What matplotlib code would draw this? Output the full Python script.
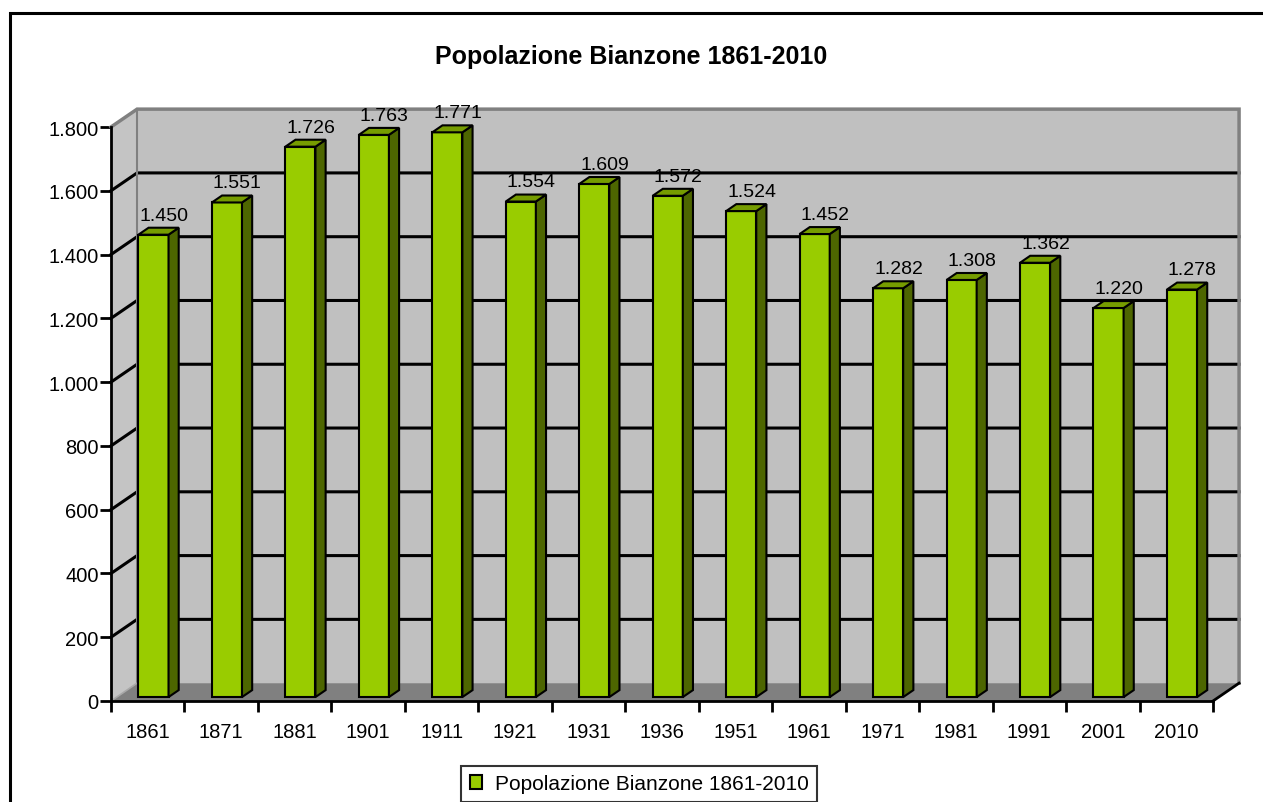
import matplotlib
matplotlib.use("Agg")
import matplotlib.pyplot as plt
from matplotlib.patches import Polygon
from matplotlib.lines import Line2D

# dati
anni = ['1861', '1871', '1881', '1901', '1911', '1921', '1931', '1936',
        '1951', '1961', '1971', '1981', '1991', '2001', '2010']
popolazione = [1450, 1551, 1726, 1763, 1771, 1554, 1609, 1572,
               1524, 1452, 1282, 1308, 1362, 1220, 1278]
y_ticks = [0, 200, 400, 600, 800, 1000, 1200, 1400, 1600, 1800]
y_tick_labels = ['0', '200', '400', '600', '800', '1.000', '1.200',
                 '1.400', '1.600', '1.800']
titolo = 'Popolazione Bianzone 1861-2010'

plt.rcParams['font.family'] = ['Liberation Sans', 'DejaVu Sans']

W, H = 1263, 803
fig = plt.figure(figsize=(W / 100, H / 100), dpi=100)
ax = fig.add_axes([111 / W, 101 / H, 1102 / W, 574 / H])

n = len(anni)
ymax = y_ticks[-1]
ax.set_xlim(0, n)
ax.set_ylim(0, ymax)

# profondita' della scatola 3d (in unita' dei dati)
DX, DY = 0.355, 56.0
F0, F1 = 0.22, 0.61   # dove stanno le barre nella profondita'
BW = 0.41


def poly(pts, fc, ec, lw, z):
    p = Polygon(pts, closed=True, facecolor=fc, edgecolor=ec, linewidth=lw,
                zorder=z, clip_on=False, joinstyle='miter')
    ax.add_patch(p)
    return p


# pareti e pavimento
poly([(DX, DY), (n + DX, DY), (n + DX, ymax + DY), (DX, ymax + DY)], '#c0c0c0', 'none', 0, 1)
poly([(0, 0), (DX, DY), (DX, ymax + DY), (0, ymax)], '#c4c4c4', 'none', 0, 1)
poly([(0, 0), (n, 0), (n + DX, DY), (DX, DY)], '#808080', 'none', 0, 1)

# griglia
for v in y_ticks[1:-1]:
    ax.plot([0, DX, n + DX], [v, v + DY, v + DY], color='black', lw=2.2,
            zorder=2, clip_on=False)
ax.plot([0, DX, n + DX, n + DX], [ymax, ymax + DY, ymax + DY, DY], color='#808080',
        lw=2.5, zorder=2, clip_on=False, solid_joinstyle='miter')
ax.plot([DX, DX], [DY, ymax + DY], color='#808080', lw=1.5, zorder=2, clip_on=False)
ax.plot([0, DX], [0, DY], color='#a8a8a8', lw=1.2, zorder=2, clip_on=False)
ax.plot([n, n + DX], [0, DY], color='black', lw=2, zorder=2, clip_on=False)

# barre
sx = (F1 - F0) * DX
sy = (F1 - F0) * DY
y0 = F0 * DY
fronti = []
for i, v in enumerate(popolazione):
    x0 = i + 0.5 - BW / 2 + F0 * DX
    x1 = x0 + BW
    f = poly([(x0, y0), (x1, y0), (x1, v + y0), (x0, v + y0)], '#99cc00', 'black', 1.5, 5)
    poly([(x1, y0), (x1 + sx, y0 + sy), (x1 + sx, v + y0 + sy), (x1, v + y0)],
         '#4d6600', 'black', 1.5, 5)
    poly([(x0, v + y0), (x1, v + y0), (x1 + sx, v + y0 + sy), (x0 + sx, v + y0 + sy)],
         '#769c00', 'black', 1.5, 5)
    fronti.append(f)
    ax.annotate(f'{v:,}'.replace(',', '.'), (i + 0.72, v + F1 * DY),
                xytext=(0, 3), textcoords='offset points', ha='center', va='bottom',
                fontsize=14, zorder=6, annotation_clip=False)

# assi
ax.patch.set_visible(False)
for s in ['top', 'right']:
    ax.spines[s].set_visible(False)
for s in ['left', 'bottom']:
    ax.spines[s].set_linewidth(2)
    ax.spines[s].set_zorder(3)

ax.set_xticks(range(n + 1))
ax.set_xticklabels([])
ax.set_xticks([i + 0.5 for i in range(n)], anni, minor=True)
ax.tick_params(axis='x', which='major', length=8, width=2, direction='out')
ax.tick_params(axis='x', which='minor', length=0, pad=15, labelsize=14.5)
ax.set_yticks(y_ticks, y_tick_labels)
ax.tick_params(axis='y', length=8, width=2, pad=1, labelsize=14.5)

fig.text(631 / W, 1 - 57 / H, titolo, ha='center', va='center',
         fontsize=18, fontweight='bold')

# bordo esterno
fig.add_artist(Line2D([10 / W, 10 / W, 1.0], [0, 1 - 14 / H, 1 - 14 / H],
                      transform=fig.transFigure, color='black', lw=2.2,
                      solid_joinstyle='miter'))

leg = fig.legend(handles=[fronti[0]], labels=[titolo], loc='upper center',
                 bbox_to_anchor=(639 / W, 1 - 767 / H), frameon=True, fancybox=False,
                 edgecolor='black', fontsize=15, handlelength=0.6, handleheight=0.6,
                 borderpad=0.4, handletextpad=0.6, borderaxespad=0)
leg.get_frame().set_linewidth(1.5)

fig.savefig('out.png', dpi=100)
